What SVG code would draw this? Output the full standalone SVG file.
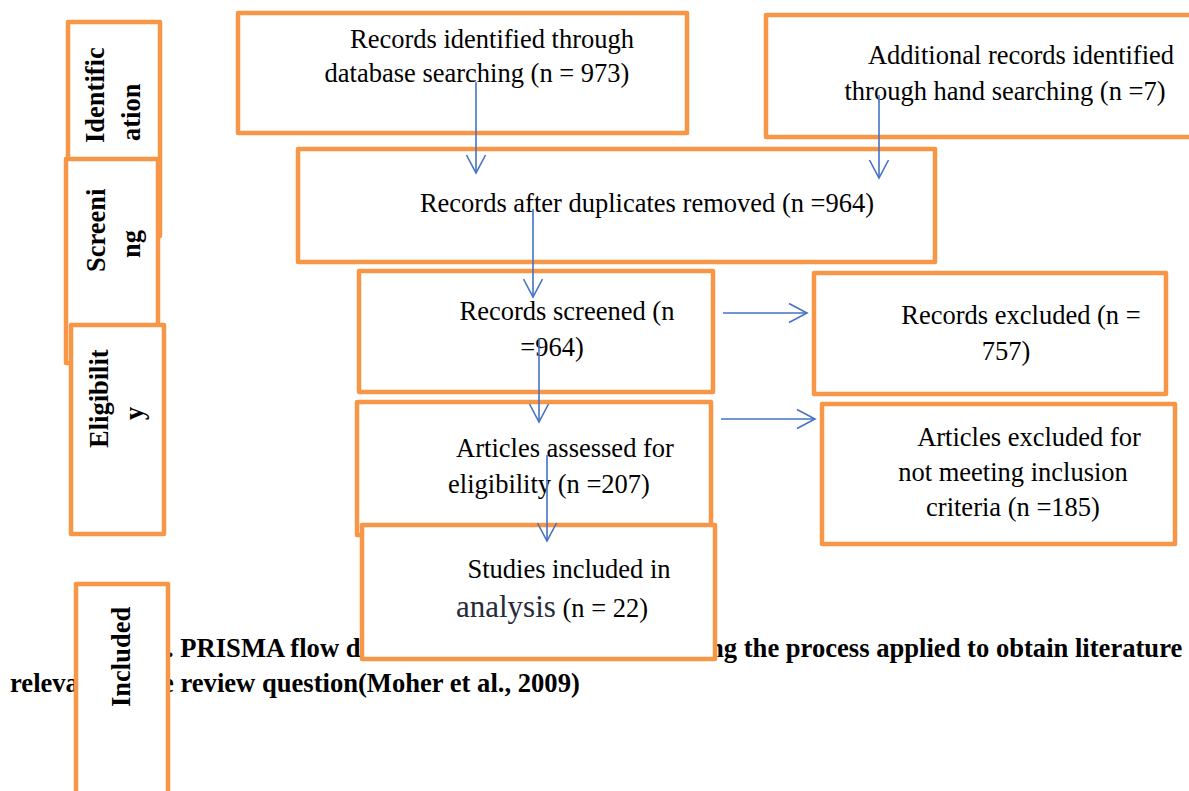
<svg xmlns="http://www.w3.org/2000/svg" width="1189" height="791" viewBox="0 0 1189 791">
<defs>
<marker id="ah" markerWidth="24" markerHeight="24" refX="0" refY="0" viewBox="-20 -12 24 24" orient="auto" markerUnits="userSpaceOnUse">
<path d="M-18,-9.5 L0,0 L-18,9.5" fill="none" stroke="#4472C4" stroke-width="1.6"/>
</marker>
</defs>
<style>
.box{fill:#ffffff;stroke:#F79646;stroke-width:4.5;stroke-linejoin:round}
.t{font-family:"Liberation Serif","Times New Roman",serif;font-size:26.5px;fill:#000;text-anchor:middle}
.v{font-family:"Liberation Serif","Times New Roman",serif;font-size:26.5px;font-weight:bold;fill:#000}
.cap{font-family:"Liberation Serif","Times New Roman",serif;font-size:26.6px;font-weight:bold;fill:#000}
.arr{stroke:#4472C4;stroke-width:1.6;fill:none;marker-end:url(#ah)}
</style>
<rect width="1189" height="791" fill="#ffffff"/>

<g id="caption">
<text class="cap" x="167" y="657">. PRISMA flow d</text>
<text class="cap" x="709" y="657">ng the process applied to obtain literature</text>
<text class="cap" x="10" y="692">releva</text>
<text class="cap" x="162" y="692">e review question(Moher et al., 2009)</text>
</g>

<g id="identification">
<rect class="box" x="68" y="22" width="92" height="214"/>
</g>
<g id="screening">
<rect class="box" x="66" y="159" width="92" height="204"/>
</g>
<g id="identification-label">
<text class="v" transform="translate(104,143) rotate(-90)">Identific</text>
<text class="v" transform="translate(140,141) rotate(-90)">ation</text>
</g>
<g id="screening-label">
<text class="v" transform="translate(105,272) rotate(-90)">Screeni</text>
<text class="v" transform="translate(140,258) rotate(-90)">ng</text>
</g>
<g id="eligibility">
<rect class="box" x="71" y="325" width="93" height="209"/>
<text class="v" transform="translate(108,448) rotate(-90)">Eligibilit</text>
<text class="v" transform="translate(143,420) rotate(-90)">y</text>
</g>
<g id="included">
<rect class="box" x="76" y="584" width="92" height="220"/>
<text class="v" transform="translate(130,707) rotate(-90)">Included</text>
</g>

<g id="db-search">
<rect class="box" x="238" y="13" width="449" height="120"/>
<text class="t" x="492" y="48">Records identified through</text>
<text class="t" x="477" y="82">database searching (n = 973)</text>
</g>
<g id="hand-search">
<rect class="box" x="766" y="15" width="440" height="122"/>
<text class="t" x="1021" y="64">Additional records identified</text>
<text class="t" x="1005" y="100">through hand searching (n =7)</text>
</g>
<g id="dedup">
<rect class="box" x="298" y="149" width="637" height="113"/>
<text class="t" x="647" y="212">Records after duplicates removed (n =964)</text>
</g>
<g id="screened">
<rect class="box" x="359" y="271" width="354" height="121"/>
<text class="t" x="567" y="320">Records screened (n</text>
<text class="t" x="552" y="356">=964)</text>
</g>
<g id="excluded">
<rect class="box" x="814" y="273" width="352" height="121"/>
<text class="t" x="1021" y="324">Records excluded (n =</text>
<text class="t" x="1006" y="360">757)</text>
</g>
<g id="assessed">
<rect class="box" x="357" y="402" width="354" height="133"/>
<text class="t" x="565" y="457">Articles assessed for</text>
<text class="t" x="549" y="493">eligibility (n =207)</text>
</g>
<g id="articles-excluded">
<rect class="box" x="822" y="404" width="353" height="140"/>
<text class="t" x="1029" y="446">Articles excluded for</text>
<text class="t" x="1013" y="481">not meeting inclusion</text>
<text class="t" x="1013" y="516">criteria (n =185)</text>
</g>
<g id="included-studies">
<rect class="box" x="362" y="525" width="353" height="134"/>
<text class="t" x="569" y="578">Studies included in</text>
<text class="t" x="552" y="617"><tspan font-size="31px" fill="#262b3a">analysis</tspan> (n = 22)</text>
</g>

<g id="connectors">
<line class="arr" x1="476" y1="82" x2="476" y2="173"/>
<line class="arr" x1="879" y1="95" x2="879" y2="178"/>
<line class="arr" x1="533" y1="209" x2="533" y2="297"/>
<line class="arr" x1="539" y1="338" x2="539" y2="422"/>
<line class="arr" x1="547" y1="455" x2="547" y2="541"/>
<line class="arr" x1="723" y1="313" x2="807" y2="313"/>
<line class="arr" x1="721" y1="419" x2="815" y2="419"/>
</g>
</svg>
